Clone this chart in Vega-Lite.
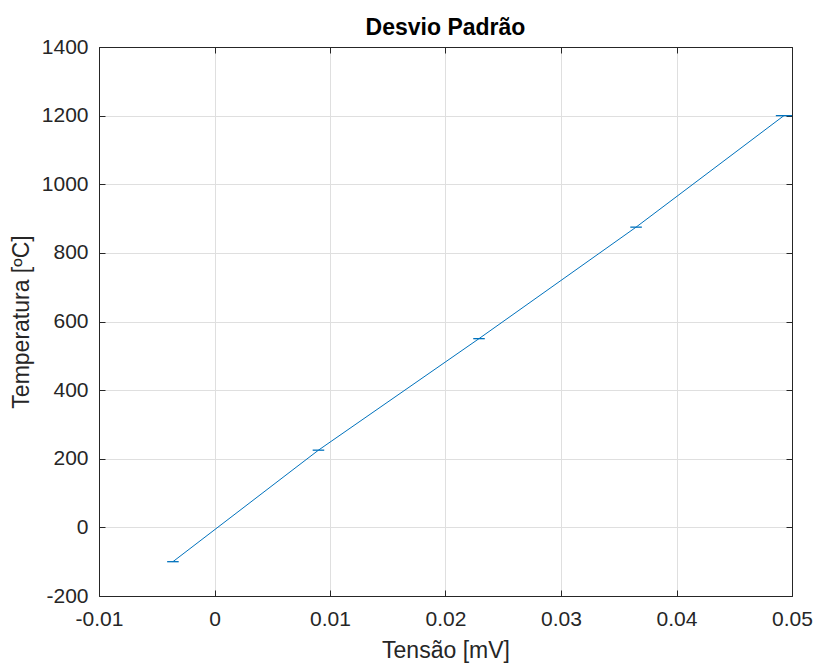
{
  "$schema": "https://vega.github.io/schema/vega-lite/v6.json",
  "width": 693,
  "height": 549,
  "autosize": {"type": "none"},
  "padding": {"left": 99, "top": 47, "right": 22, "bottom": 68},
  "background": "white",
  "title": {"text": "Desvio Padrão", "font": "Liberation Sans", "fontSize": 23, "fontWeight": "bold", "color": "#000000", "offset": -4},
  "config": {
    "font": "Liberation Sans",
    "view": {"stroke": "#262626", "strokeWidth": 1},
    "axis": {
      "domainColor": "#262626",
      "tickColor": "#262626",
      "gridColor": "#dfdfdf",
      "gridWidth": 1,
      "labelColor": "#262626",
      "labelFont": "Liberation Sans",
      "labelFontSize": 21,
      "titleFont": "Liberation Sans",
      "titleFontSize": 23,
      "titleFontWeight": "normal",
      "titleColor": "#262626",
      "tickSize": -6
    }
  },
  "data": {"values": [
    {"v": -0.0036, "t": -100, "lo": -0.0041, "hi": -0.0031},
    {"v": 0.0090, "t": 225, "lo": 0.0085, "hi": 0.0095},
    {"v": 0.0229, "t": 550, "lo": 0.0224, "hi": 0.0234},
    {"v": 0.0365, "t": 875, "lo": 0.0360, "hi": 0.0370},
    {"v": 0.0493, "t": 1200, "lo": 0.0486, "hi": 0.0500}
  ]},
  "resolve": {"axis": {"x": "independent", "y": "independent"}},
  "layer": [
    {
      "mark": {"type": "line", "color": "#0072BD", "strokeWidth": 1, "clip": true},
      "encoding": {
        "x": {"field": "v", "type": "quantitative", "scale": {"domain": [-0.01, 0.05], "nice": false, "zero": false},
              "axis": {"title": "Tensão [mV]", "values": [-0.01, 0, 0.01, 0.02, 0.03, 0.04, 0.05], "labelExpr": "replace(format(datum.value, '~g'), '−', '-')", "labelPadding": 18, "titlePadding": 10, "grid": true, "labelFlush": false}},
        "y": {"field": "t", "type": "quantitative", "scale": {"domain": [-200, 1400], "nice": false, "zero": false},
              "axis": {"title": "Temperatura [ºC]", "values": [-200, 0, 200, 400, 600, 800, 1000, 1200, 1400], "labelExpr": "replace(format(datum.value, 'd'), '−', '-')", "labelPadding": 17, "titlePadding": 8, "grid": true, "labelFlush": false}}
      }
    },
    {
      "mark": {"type": "rule", "color": "#0072BD", "strokeWidth": 1.3, "clip": true},
      "encoding": {
        "x": {"field": "lo", "type": "quantitative", "axis": {"orient": "top", "labels": false, "title": null, "grid": false, "values": [-0.01, 0, 0.01, 0.02, 0.03, 0.04, 0.05]}},
        "x2": {"field": "hi"},
        "y": {"field": "t", "type": "quantitative", "axis": {"orient": "right", "labels": false, "title": null, "grid": false, "values": [-200, 0, 200, 400, 600, 800, 1000, 1200, 1400]}}
      }
    }
  ]
}
